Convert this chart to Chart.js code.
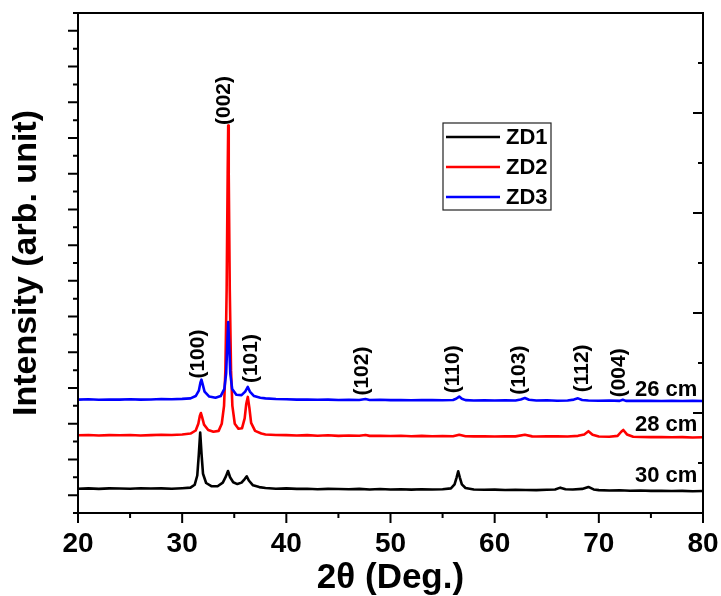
<!DOCTYPE html>
<html>
<head>
<meta charset="utf-8">
<script src="https://cdn.jsdelivr.net/npm/chart.js@4.4.1/dist/chart.umd.min.js"></script>
<style>
  html, body { margin: 0; padding: 0; background: #fff; }
  #wrap { width: 721px; height: 596px; }
</style>
</head>
<body>
<div id="wrap"><canvas id="xrd"></canvas></div>
<script>
const FONT = "'Liberation Sans', Arial, sans-serif";

const seriesNames = ["ZD1", "ZD2", "ZD3"];
const seriesColors = ["#000000", "#ff0000", "#0000ff"];

// sample distance, placed next to each pattern
const distanceLabels = ["30 cm", "28 cm", "26 cm"];
const distanceY = [2.06, 4.91, 6.87];

// Miller indices of the wurtzite reflections
const hklLabels = ["(100)", "(002)", "(101)", "(102)", "(110)", "(103)", "(112)", "(004)"];
const hklX = [31.55, 34.05, 36.65, 47.3, 56.0, 62.35, 68.45, 72.0];
const hklY = [8.9, 23.1, 8.65, 7.95, 8.05, 8.0, 8.1, 7.85];

// ZD1 (30 cm) – [2theta, intensity]
const zd1 = [
  [20, 1.36], [21, 1.38], [22, 1.35], [23, 1.38], [24, 1.37], [25, 1.36], [26, 1.39],
  [27, 1.37], [28, 1.38], [29, 1.36], [30, 1.39], [30.8, 1.42], [31.2, 1.58], [31.45, 2.1],
  [31.6, 3.3], [31.73, 4.5], [31.86, 3.3], [32.0, 2.2], [32.3, 1.68], [32.8, 1.5],
  [33.4, 1.5], [33.9, 1.7], [34.2, 2.05], [34.4, 2.35], [34.6, 2.0], [34.9, 1.72],
  [35.3, 1.62], [35.7, 1.7], [36.0, 1.9], [36.2, 2.05], [36.4, 1.82], [36.8, 1.55],
  [37.4, 1.45], [38, 1.4], [39, 1.36], [40, 1.38], [41, 1.35], [42, 1.36], [43, 1.33],
  [44, 1.35], [45, 1.34], [46, 1.33], [47, 1.35], [48, 1.32], [49, 1.34], [50, 1.32],
  [51, 1.33], [52, 1.31], [53, 1.33], [54, 1.32], [55, 1.33], [55.8, 1.38], [56.15, 1.6],
  [56.35, 2.0], [56.5, 2.34], [56.65, 2.0], [56.85, 1.6], [57.2, 1.4], [58, 1.32],
  [59, 1.3], [60, 1.31], [61, 1.29], [62, 1.3], [63, 1.29], [64, 1.28], [65, 1.3],
  [65.8, 1.32], [66.3, 1.42], [66.8, 1.33], [67.5, 1.32], [68.4, 1.35], [69.0, 1.46],
  [69.5, 1.32], [70, 1.28], [71, 1.26], [72, 1.27], [73, 1.25], [74, 1.26], [75, 1.24],
  [76, 1.25], [77, 1.23], [78, 1.24], [79, 1.22], [80, 1.23]
];

// ZD2 (28 cm)
const zd2 = [
  [20, 4.35], [21, 4.37], [22, 4.34], [23, 4.36], [24, 4.35], [25, 4.37], [26, 4.34],
  [27, 4.36], [28, 4.38], [29, 4.37], [30, 4.4], [30.8, 4.45], [31.3, 4.62], [31.55, 5.0],
  [31.7, 5.45], [31.8, 5.6], [31.92, 5.35], [32.1, 4.95], [32.5, 4.65], [33.0, 4.55],
  [33.5, 4.6], [33.8, 5.0], [34.02, 6.0], [34.15, 8.0], [34.27, 12.5], [34.37, 19.0],
  [34.42, 21.7], [34.47, 19.0], [34.57, 12.5], [34.69, 8.0], [34.82, 6.0], [35.05, 5.0],
  [35.4, 4.72], [35.75, 4.75], [36.0, 5.3], [36.15, 6.1], [36.3, 6.5], [36.45, 5.9],
  [36.62, 5.05], [37.0, 4.6], [37.6, 4.45], [38, 4.4], [39, 4.37], [40, 4.36], [41, 4.34],
  [42, 4.36], [43, 4.33], [44, 4.35], [45, 4.32], [46, 4.34], [47, 4.33], [47.6, 4.37],
  [48, 4.32], [49, 4.33], [50, 4.31], [51, 4.33], [52, 4.3], [53, 4.32], [54, 4.3],
  [55, 4.31], [56, 4.3], [56.6, 4.38], [57.2, 4.3], [58, 4.29], [59, 4.3], [60, 4.28],
  [61, 4.3], [62, 4.29], [62.9, 4.38], [63.6, 4.29], [64, 4.28], [65, 4.3], [66, 4.29],
  [67, 4.28], [68, 4.32], [68.6, 4.4], [69.0, 4.58], [69.4, 4.38], [70, 4.28], [71, 4.27],
  [71.8, 4.32], [72.15, 4.55], [72.35, 4.65], [72.7, 4.4], [73.3, 4.27], [74, 4.26],
  [75, 4.25], [76, 4.26], [77, 4.24], [78, 4.25], [79, 4.23], [80, 4.24]
];

// ZD3 (26 cm)
const zd3 = [
  [20, 6.35], [21, 6.37], [22, 6.34], [23, 6.36], [24, 6.35], [25, 6.37], [26, 6.35],
  [27, 6.36], [28, 6.38], [29, 6.37], [30, 6.39], [30.8, 6.42], [31.3, 6.55], [31.6, 6.85],
  [31.75, 7.3], [31.85, 7.47], [31.97, 7.2], [32.15, 6.8], [32.6, 6.52], [33.2, 6.45],
  [33.7, 6.55], [34.05, 6.95], [34.22, 7.8], [34.34, 9.6], [34.42, 10.7], [34.5, 9.6],
  [34.62, 7.8], [34.8, 6.95], [35.2, 6.62], [35.7, 6.6], [36.05, 6.8], [36.3, 7.06],
  [36.5, 6.8], [36.9, 6.55], [37.5, 6.45], [38, 6.42], [39, 6.38], [40, 6.37], [41, 6.35],
  [42, 6.36], [43, 6.34], [44, 6.35], [45, 6.33], [46, 6.34], [47, 6.33], [47.6, 6.38],
  [48, 6.33], [49, 6.34], [50, 6.32], [51, 6.33], [52, 6.31], [53, 6.33], [54, 6.32],
  [55, 6.31], [56, 6.33], [56.3, 6.4], [56.6, 6.52], [56.85, 6.4], [57.2, 6.32], [58, 6.3],
  [59, 6.31], [60, 6.3], [61, 6.31], [62, 6.3], [62.5, 6.36], [62.9, 6.44], [63.3, 6.34],
  [64, 6.3], [65, 6.31], [66, 6.29], [67, 6.3], [67.6, 6.35], [68.0, 6.42], [68.4, 6.33],
  [69, 6.3], [70, 6.29], [71, 6.3], [72, 6.28], [72.3, 6.34], [72.6, 6.28], [73, 6.29],
  [74, 6.28], [75, 6.29], [76, 6.27], [77, 6.28], [78, 6.27], [79, 6.28], [80, 6.27]
];

const seriesData = [zd1, zd2, zd3];

// frame, Origin-style ticks, hkl / distance labels and the boxed legend
const decor = {
  id: "decor",
  afterDatasetsDraw(chart) {
    const { ctx, chartArea: a, scales: { x, y, y2 } } = chart;
    ctx.save();
    ctx.strokeStyle = "#000";
    ctx.lineWidth = 2;
    ctx.strokeRect(a.left, a.top, a.right - a.left, a.bottom - a.top);

    ctx.beginPath();
    for (let v = 0; v <= 28; v++) {
      const py = y.getPixelForValue(v);
      const len = v % 2 ? 10 : 5;
      ctx.moveTo(a.left - len, py);
      ctx.lineTo(a.left, py);
    }
    for (let v = 1; v < 10; v++) {
      const py = y2.getPixelForValue(v);
      const len = v % 2 ? 5 : 10;
      ctx.moveTo(a.right, py);
      ctx.lineTo(a.right - len, py);
    }
    for (let v = 20; v <= 80; v += 5) {
      const px = x.getPixelForValue(v);
      const len = v % 10 ? 5 : 10;
      ctx.moveTo(px, a.bottom);
      ctx.lineTo(px, a.bottom + len);
    }
    ctx.stroke();

    ctx.fillStyle = "#000";
    ctx.font = "bold 21px " + FONT;
    ctx.textAlign = "center";
    ctx.textBaseline = "middle";
    hklLabels.forEach((t, i) => {
      ctx.save();
      ctx.translate(x.getPixelForValue(hklX[i]), y.getPixelForValue(hklY[i]));
      ctx.rotate(-Math.PI / 2);
      ctx.fillText(t, 0, 0);
      ctx.restore();
    });

    ctx.font = "bold 22px " + FONT;
    ctx.textAlign = "right";
    distanceLabels.forEach((t, i) => {
      ctx.fillText(t, x.getPixelForValue(79.45), y.getPixelForValue(distanceY[i]));
    });

    // legend box
    const lx = a.left + 365, ly = a.top + 110;
    ctx.lineWidth = 1.2;
    ctx.strokeStyle = "#222";
    ctx.strokeRect(lx, ly, 108, 87);
    ctx.textAlign = "left";
    seriesNames.forEach((name, i) => {
      const ry = ly + 14 + i * 30;
      ctx.strokeStyle = seriesColors[i];
      ctx.lineWidth = 2.5;
      ctx.beginPath();
      ctx.moveTo(lx + 3, ry);
      ctx.lineTo(lx + 57, ry);
      ctx.stroke();
      ctx.fillStyle = "#000";
      ctx.fillText(name, lx + 63, ry + 1);
    });
    ctx.restore();
  }
};

new Chart(document.getElementById("xrd"), {
  type: "line",
  data: {
    datasets: seriesData.map((d, i) => ({
      label: seriesNames[i],
      data: d,
      borderColor: seriesColors[i],
      borderWidth: 2.6,
      borderJoinStyle: "round",
      pointRadius: 0,
      tension: 0,
      fill: false,
      order: 2 - i,
    })),
  },
  options: {
    responsive: true,
    maintainAspectRatio: false,
    animation: false,
    layout: { padding: { top: 13, right: 18, left: 0, bottom: 0 } },
    plugins: { legend: { display: false }, tooltip: { enabled: false } },
    scales: {
      x: {
        type: "linear",
        min: 20,
        max: 80,
        grid: { display: false, drawTicks: false },
        border: { display: false },
        ticks: {
          stepSize: 10,
          color: "#000",
          padding: 14,
          maxRotation: 0,
          font: { family: FONT, size: 28, weight: "bold" },
        },
        title: {
          display: true,
          text: "2θ (Deg.)",
          color: "#000",
          padding: { top: 0, bottom: 0 },
          font: { family: FONT, size: 35, weight: "bold", lineHeight: 1 },
        },
        afterFit: (s) => {
          s.height = 83;
          s.paddingLeft = 0;
          s.paddingRight = 0;
        },
      },
      y: {
        min: 0,
        max: 28,
        grid: { display: false, drawTicks: false },
        border: { display: false },
        ticks: { display: false },
        title: {
          display: true,
          text: "Intensity (arb. unit)",
          color: "#000",
          padding: { top: 10, bottom: 0 },
          font: { family: FONT, size: 34, weight: "bold", lineHeight: 1 },
        },
        afterFit: (s) => { s.width = 78; },
      },
      y2: { position: "right", min: 0, max: 10, display: false },
    },
  },
  plugins: [decor],
});
</script>
</body>
</html>
